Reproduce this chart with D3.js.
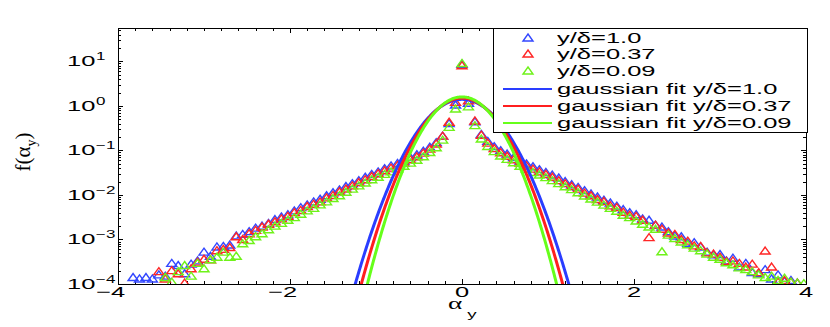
<!DOCTYPE html>
<html>
<head>
<meta charset="utf-8">
<title>f(alpha_y)</title>
<script src="https://cdn.jsdelivr.net/npm/d3@7"></script>
<style>
  body { margin: 0; background: #fff; }
  text { font-family: "Liberation Sans", Arial, sans-serif; fill: #000; }
  .axis path, .axis line { stroke: #000; stroke-width: 1; shape-rendering: crispEdges; }
</style>
</head>
<body>
<script>
// bin centres of alpha_y
var alphaBins = [-3.825,-3.75,-3.675,-3.6,-3.525,-3.45,-3.375,-3.3,-3.225,-3.15,-3.075,-3,
  -2.925,-2.85,-2.775,-2.7,-2.625,-2.55,-2.475,-2.4,-2.325,-2.25,-2.175,-2.1,-2.025,
  -1.95,-1.875,-1.8,-1.725,-1.65,-1.575,-1.5,-1.425,-1.35,-1.275,-1.2,-1.125,-1.05,
  -0.975,-0.9,-0.825,-0.75,-0.675,-0.6,-0.525,-0.45,-0.375,-0.3,-0.225,-0.15,-0.075,0,
  0.075,0.15,0.225,0.3,0.375,0.45,0.525,0.6,0.675,0.75,0.825,0.9,0.975,1.05,1.125,1.2,
  1.275,1.35,1.425,1.5,1.575,1.65,1.725,1.8,1.875,1.95,2.025,2.1,2.175,2.25,2.325,2.4,
  2.475,2.55,2.625,2.7,2.775,2.85,2.925,3,3.075,3.15,3.225,3.3,3.375,3.45,3.525,3.6,
  3.675,3.75,3.825,3.9,3.975];

// y/delta = 1.0
var pdfBlue = [1.4e-4,1.3e-4,1.4e-4,1.3e-4,1.6e-4,1.5e-4,2.9e-4,2.6e-4,1.7e-4,2.8e-4,3.3e-4,
  5.2e-4,4.2e-4,6.8e-4,7.0e-4,7.5e-4,1.2e-3,1.3e-3,1.5e-3,1.8e-3,2.0e-3,2.3e-3,2.8e-3,3.2e-3,
  3.6e-3,4.4e-3,5.2e-3,6.0e-3,7.0e-3,8.0e-3,9.6e-3,1.12e-2,1.3e-2,1.55e-2,1.8e-2,2.1e-2,
  2.5e-2,2.9e-2,3.3e-2,3.9e-2,4.5e-2,5.1e-2,5.8e-2,6.9e-2,8.0e-2,9.6e-2,0.118,0.15,0.21,0.40,1.05,
  8.6,
  1.15,0.44,0.23,0.16,0.122,0.099,0.083,0.069,0.058,0.050,0.043,0.037,0.032,0.028,0.024,
  0.020,0.017,0.0148,0.0125,0.0105,0.0090,0.0076,0.0066,0.0056,0.0047,0.0040,0.0036,0.0029,
  0.0027,0.0021,0.0019,0.0015,0.0012,0.00115,0.00082,0.00085,0.00068,0.00052,0.00045,0.00046,
  0.00033,0.00038,0.00024,0.00029,0.00018,0.00017,0.00021,0.00013,0.00016,0.000115,0.00012,
  0.000105,null];

// y/delta = 0.37
var pdfRed = [null,null,null,null,1.9e-4,1.3e-4,2.0e-4,1.7e-4,1.05e-4,2.2e-4,3.1e-4,3.6e-4,
  3.5e-4,5.6e-4,6.0e-4,6.6e-4,1.15e-3,1.0e-3,1.35e-3,1.6e-3,1.9e-3,2.2e-3,2.5e-3,2.9e-3,3.3e-3,
  4.0e-3,4.5e-3,5.5e-3,6.2e-3,7.0e-3,8.6e-3,9.8e-3,1.18e-2,1.36e-2,1.6e-2,1.9e-2,2.2e-2,2.6e-2,
  3.0e-2,3.5e-2,4.0e-2,4.6e-2,5.2e-2,6.2e-2,7.2e-2,8.7e-2,0.107,0.14,0.21,0.43,1.2,
  8.0,
  1.3,0.46,0.22,0.146,0.11,0.089,0.074,0.062,0.052,0.045,0.038,0.033,0.029,0.025,0.021,
  0.018,0.0155,0.0135,0.0110,0.0096,0.0079,0.0071,0.0057,0.0052,0.0041,0.0035,0.0033,0.0027,
  0.0011,0.0021,0.0017,0.0014,0.0013,0.0010,0.00092,0.00072,0.00070,0.00050,0.00047,0.00040,
  0.00032,0.00033,0.00029,0.00024,0.00028,0.00018,0.00055,0.00024,0.00011,0.00012,0.00011,
  0.000105,null];

// y/delta = 0.09
var pdfGreen = [null,null,null,null,null,1.4e-4,1.1e-4,1.9e-4,2.6e-4,1.5e-4,2.9e-4,2.2e-4,
  3.5e-4,4.0e-4,5.2e-4,4.0e-4,4.2e-4,8.0e-4,9.5e-4,1.15e-3,1.35e-3,1.65e-3,2.0e-3,2.3e-3,2.7e-3,
  3.1e-3,3.7e-3,4.4e-3,5.0e-3,6.0e-3,7.0e-3,8.3e-3,9.6e-3,1.15e-2,1.35e-2,1.6e-2,1.85e-2,2.2e-2,
  2.5e-2,2.9e-2,3.3e-2,3.8e-2,4.4e-2,5.2e-2,6.0e-2,7.2e-2,0.09,0.115,0.17,0.33,0.85,
  9.0,
  0.95,0.36,0.18,0.123,0.094,0.075,0.063,0.053,0.044,0.038,0.032,0.028,0.0245,0.021,0.018,
  0.0153,0.0132,0.0112,0.0095,0.0081,0.0069,0.0059,0.0050,0.0043,0.0035,0.0031,0.0026,0.0022,
  0.0019,0.0017,0.00053,0.00125,0.00105,0.00088,0.00076,0.00064,0.00056,0.00047,0.00040,0.00036,
  0.00030,0.00027,0.00023,0.00021,0.00019,0.00016,0.00014,0.00015,0.00012,0.000135,0.00011,
  0.000105,0.000102];

// gaussian fit parameters (mean, std) for each height
var fitMean = [0, 0, 0];
var fitSigma = [0.284, 0.267, 0.25];

var seriesNames = ["y/\u03b4=1.0", "y/\u03b4=0.37", "y/\u03b4=0.09"];
var fitNames = ["gaussian fit y/\u03b4=1.0", "gaussian fit y/\u03b4=0.37", "gaussian fit y/\u03b4=0.09"];
var markColors = ["#3347ff", "#ff2626", "#6ff21a"];
var lineColors = ["#2a3dff", "#ff1f1f", "#66ff1a"];

var xTicks = [-4, -2, 0, 2, 4];
var xTickLabels = ["4", "2", "0", "2", "4"];
var yTicks = [1e-4, 1e-3, 1e-2, 1e-1, 1e0, 1e1];
var yTickExps = ["\u22124", "\u22123", "\u22122", "\u22121", "0", "1"];

var width = 830, height = 327;
var SX = 1.7; // text in the figure is stretched horizontally

var svg = d3.select("body").append("svg")
    .attr("width", width)
    .attr("height", height);

var pL = 118, pR = 806, pT = 28, pB = 284;

var x = d3.scaleLinear().domain([-4, 4]).range([pL, pR]);
var y = d3.scaleLog().domain([1e-4, Math.pow(10, 1.75)]).range([pB, pT]);

svg.append("clipPath").attr("id", "plotclip")
  .append("rect")
    .attr("x", pL).attr("y", pT)
    .attr("width", pR - pL).attr("height", pB - pT);

function stretched(str, px, py, anchor, size) {
    return svg.append("text")
        .attr("transform", "translate(" + px + "," + py + ") scale(" + SX + ",1)")
        .attr("text-anchor", anchor)
        .style("font-size", size + "px")
        .text(str);
}

// ticks
var xMinor = d3.range(-4, 4.001, 0.2).map(function(v) { return +v.toFixed(2); });
var yMinor = [];
for (var d = -4; d <= 1; d++) {
    for (var m = 2; m <= 9; m++) {
        var v = m * Math.pow(10, d);
        if (v < y.domain()[1]) yMinor.push(v);
    }
}

function drawAxis(axisFn, scale, vals, size, transform) {
    svg.append("g").attr("class", "axis")
        .attr("transform", transform)
        .call(axisFn(scale).tickValues(vals).tickSize(size).tickSizeOuter(0).tickFormat(""))
        .select(".domain").remove();
}
drawAxis(d3.axisBottom, x, xMinor, -3, "translate(0," + pB + ")");
drawAxis(d3.axisBottom, x, xTicks, -5, "translate(0," + pB + ")");
drawAxis(d3.axisTop, x, xMinor, -3, "translate(0," + pT + ")");
drawAxis(d3.axisTop, x, xTicks, -5, "translate(0," + pT + ")");
drawAxis(d3.axisLeft, y, yMinor, -3, "translate(" + pL + ",0)");
drawAxis(d3.axisLeft, y, yTicks, -5, "translate(" + pL + ",0)");
drawAxis(d3.axisRight, y, yMinor, -3, "translate(" + pR + ",0)");
drawAxis(d3.axisRight, y, yTicks, -5, "translate(" + pR + ",0)");

// data
var plot = svg.append("g").attr("clip-path", "url(#plotclip)");
var tri = "M0,-4L5,3L-5,3Z";
[pdfBlue, pdfRed, pdfGreen].forEach(function(vals, s) {
    var pts = alphaBins.map(function(a, i) { return { a: a, f: vals[i] }; })
        .filter(function(p) { return p.f != null; });
    plot.selectAll(".pts" + s)
        .data(pts)
        .enter()
        .append("path")
        .attr("class", "pts" + s)
        .attr("d", tri)
        .attr("transform", function(p) { return "translate(" + x(p.a) + "," + y(p.f) + ")"; })
        .attr("fill", "none")
        .attr("stroke", markColors[s])
        .attr("stroke-width", 1.4);
});

var fitX = d3.range(-1.6, 1.6001, 0.01);
var line = d3.line()
    .x(function(p) { return x(p[0]); })
    .y(function(p) { return y(p[1]); });
fitSigma.forEach(function(sig, s) {
    var amp = 1 / (sig * Math.sqrt(2 * Math.PI));
    var curve = fitX.map(function(a) {
        var f = amp * Math.exp(-Math.pow(a - fitMean[s], 2) / (2 * sig * sig));
        return [a, Math.max(f, 1e-6)];
    });
    plot.append("path")
        .attr("d", line(curve))
        .attr("fill", "none")
        .attr("stroke", lineColors[s])
        .attr("stroke-width", 3);
});

// frame
svg.append("rect")
    .attr("x", pL).attr("y", pT)
    .attr("width", pR - pL).attr("height", pB - pT)
    .attr("fill", "none").attr("stroke", "#000").attr("stroke-width", 1)
    .attr("shape-rendering", "crispEdges");

// tick labels
xTicks.forEach(function(t, i) {
    stretched(xTickLabels[i], x(t), 297, "middle", 15);
    if (t < 0) stretched("\u2212", x(t) - 7, 297, "end", 15);
});
yTicks.forEach(function(t, i) {
    stretched("10", 67, y(t) + 5, "start", 15);
    stretched(yTickExps[i], 96, y(t) - 1, "start", 10);
});

// axis labels
stretched("\u03b1", 455, 309, "middle", 16).style("font-family", "'Liberation Serif', serif");
stretched("y", 472, 318, "middle", 11);

var yl = svg.append("text")
    .attr("transform", "translate(30,152) rotate(-90)")
    .attr("text-anchor", "middle")
    .style("font-family", "'Liberation Serif', serif")
    .style("font-size", "21px");
yl.append("tspan").text("f(\u03b1");
yl.append("tspan").attr("dy", 6).style("font-size", "14px").text("y");
yl.append("tspan").attr("dy", -6).text(")");

// legend
var lg = svg.append("g");
lg.append("rect")
    .attr("x", 493).attr("y", 28).attr("width", 314).attr("height", 104)
    .attr("fill", "#fff").attr("stroke", "#000").attr("stroke-width", 1)
    .attr("shape-rendering", "crispEdges");
var rowY = [38, 54, 71, 89, 106, 123];
seriesNames.forEach(function(n, s) {
    lg.append("path").attr("d", tri)
        .attr("transform", "translate(528," + rowY[s] + ")")
        .attr("fill", "none").attr("stroke", markColors[s]).attr("stroke-width", 1.4);
    stretched(n, 557, rowY[s] + 5, "start", 15);
});
fitNames.forEach(function(n, s) {
    var ry = rowY[s + 3];
    lg.append("line").attr("x1", 503).attr("x2", 552).attr("y1", ry).attr("y2", ry)
        .attr("stroke", lineColors[s]).attr("stroke-width", 2);
    stretched(n, 557, ry + 5, "start", 15);
});
</script>
</body>
</html>
